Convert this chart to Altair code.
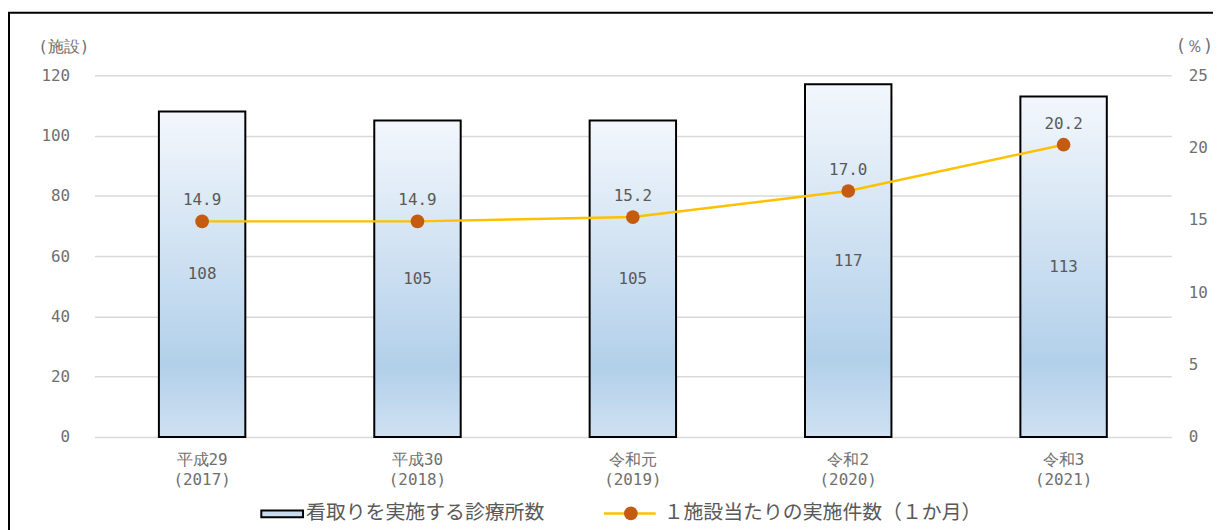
import altair as alt
import pandas as pd

# ---- data ----
years = ["平成29|(2017)", "平成30|(2018)", "令和元|(2019)", "令和2|(2020)", "令和3|(2021)"]
clinics = [108, 105, 105, 117, 113]
per_facility = [14.9, 14.9, 15.2, 17.0, 20.2]
left_ticks = [0, 20, 40, 60, 80, 100, 120]
right_ticks = [0, 5, 10, 15, 20, 25]
legend_bar = "看取りを実施する診療所数"
legend_line = "１施設当たりの実施件数（１か月）"

df = pd.DataFrame({"year": years, "clinics": clinics, "per": per_facility})
df["half"] = df["clinics"] / 2
df["per_label"] = [f"{v:.1f}" for v in per_facility]
one = pd.DataFrame({"a": [0]})

W, H = 1084, 364
MONO = "DejaVu Sans Mono"
JP = "Noto Sans CJK JP"
GRAY = "#595959"
AXG = "#6f6f6f"
GRID = "#d9d9d9"
LINE_C = "#ffc000"
PT_C = "#c55a11"

bar_grad = alt.LinearGradient(
    gradient="linear", x1=0, x2=0, y1=0, y2=1,
    stops=[alt.GradientStop(color="#f3f7fc", offset=0),
           alt.GradientStop(color="#b2d0ea", offset=0.78),
           alt.GradientStop(color="#cfe1f2", offset=1)],
)

x_enc = alt.X(
    "year:N", sort=years,
    scale=alt.Scale(paddingInner=0, paddingOuter=0),
    axis=alt.Axis(title=None, labelExpr="split(datum.label, '|')", labelAngle=0,
                  labelFont=MONO, labelFontSize=16, labelColor=AXG,
                  labelPadding=15, labelLineHeight=20, labelBaseline="top",
                  domain=False, ticks=False, grid=False),
)

left_scale = alt.Scale(domain=[0, 120], nice=False)
right_scale = alt.Scale(domain=[0, 25], nice=False)

base = alt.Chart(df)

bars = base.mark_bar(width=87, fill=bar_grad, stroke="black", strokeWidth=2).encode(
    x=x_enc,
    y=alt.Y("clinics:Q", scale=left_scale,
            axis=alt.Axis(values=left_ticks, title="(施設)", titleAngle=0,
                          titleAlign="left", titleBaseline="middle",
                          titleX=-57, titleY=-29, titleFont=MONO, titleFontSize=16,
                          titleFontWeight="normal", titleColor=AXG,
                          labelFont=MONO, labelFontSize=16, labelColor=AXG,
                          labelPadding=25, domain=False, ticks=False,
                          grid=True, gridColor=GRID, gridWidth=1.5)),
)

bar_text = base.mark_text(font=MONO, fontSize=16, color=GRAY).encode(
    x=alt.X("year:N", sort=years),
    y=alt.Y("half:Q", scale=left_scale),
    text=alt.Text("clinics:Q"),
)

frame = alt.Chart(one).mark_rect(fill="transparent", stroke="black", strokeWidth=2).encode(
    x=alt.value(-86), x2=alt.value(1200), y=alt.value(-63), y2=alt.value(600)
)

LY = 441
leg_rect = alt.Chart(one).mark_rect(fill="#c9dcef", stroke="black", strokeWidth=2).encode(
    x=alt.value(168), x2=alt.value(210), y=alt.value(LY - 3), y2=alt.value(LY + 4)
)
leg_text1 = alt.Chart(one).mark_text(font=JP, fontSize=20, color=GRAY, align="left",
                                     baseline="middle").encode(
    x=alt.value(213), y=alt.value(LY), text=alt.value(legend_bar)
)
leg_rule = alt.Chart(one).mark_rule(color=LINE_C, strokeWidth=2.5).encode(
    x=alt.value(513), x2=alt.value(565), y=alt.value(LY)
)
leg_pt = alt.Chart(one).mark_point(filled=True, size=190, color=PT_C, opacity=1).encode(
    x=alt.value(540), y=alt.value(LY)
)
leg_text2 = alt.Chart(one).mark_text(font=JP, fontSize=20, color=GRAY, align="left",
                                     baseline="middle").encode(
    x=alt.value(573), y=alt.value(LY), text=alt.value(legend_line)
)

bar_layer = alt.layer(frame, bars, bar_text, leg_rect, leg_text1, leg_rule, leg_pt, leg_text2)

y_right = alt.Y("per:Q", scale=right_scale,
                axis=alt.Axis(orient="right", values=right_ticks, title="(％)", titleAngle=0,
                              titleAlign="left", titleBaseline="middle",
                              titleX=4, titleY=-29, titleFont=MONO, titleFontSize=17,
                              titleFontWeight="normal", titleColor=AXG,
                              labelFont=MONO, labelFontSize=16, labelColor=AXG,
                              labelPadding=17, domain=False, ticks=False, grid=False))

line = base.mark_line(color=LINE_C, strokeWidth=2.5).encode(
    x=alt.X("year:N", sort=years), y=y_right
)
pts = base.mark_point(filled=True, size=190, color=PT_C, opacity=1).encode(
    x=alt.X("year:N", sort=years), y=alt.Y("per:Q", scale=right_scale)
)
line_text = base.mark_text(font=MONO, fontSize=16, color=GRAY, dy=-21).encode(
    x=alt.X("year:N", sort=years), y=alt.Y("per:Q", scale=right_scale),
    text=alt.Text("per_label:N"),
)
line_layer = alt.layer(line, pts, line_text)

chart = alt.layer(bar_layer, line_layer).resolve_scale(y="independent").properties(
    width=W, height=H,
    padding={"left": 87, "top": 66, "right": 42, "bottom": 94},
    autosize=alt.AutoSizeParams(type="none"),
    background="white",
).configure_view(stroke=None)

chart.save("out.html", embed_options={"renderer": "svg", "actions": False})
